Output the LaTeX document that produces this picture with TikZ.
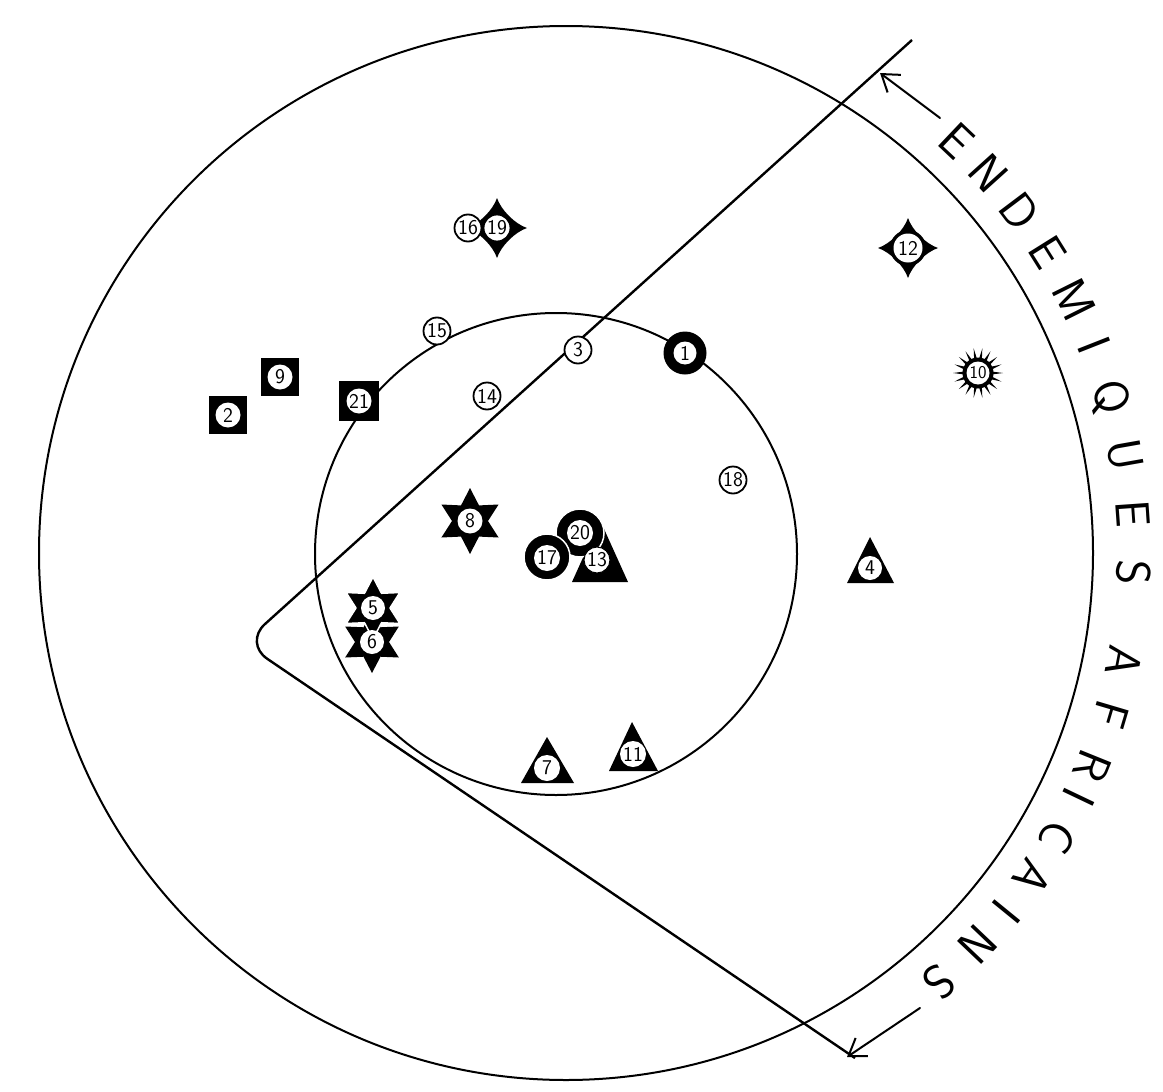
\documentclass[tikz,border=0pt]{standalone}
\usetikzlibrary{arrows.meta}
\begin{document}
\begin{tikzpicture}[x=1pt,y=-1pt,line join=round]
\tikzset{
  contour/.style={line width=2pt},
  wedge/.style={line width=2.4pt, rounded corners=28pt},
  arr/.style={line width=2pt, line cap=round, -{Straight Barb[length=16pt,width=22pt,line width=2pt]}},
  lbl/.style={circle, fill=white, inner sep=0pt, minimum size=25pt, font=\sffamily\fontsize{21}{21}\selectfont},
  olbl/.style={lbl, draw=black, line width=1.8pt, minimum size=27pt},
  letter/.style={inner sep=0pt, anchor=center, text height=33pt, text depth=0pt, font=\sffamily\fontsize{48}{48}\selectfont},
}
\fill[white] (0,0) rectangle (1163,1092);
\useasboundingbox (0,0) rectangle (1163,1092);

% circles
\draw[contour] (566,553) circle[radius=527];
\draw[contour] (556,554) circle[radius=241];
% wedge
\draw[wedge] (912,40) -- (244,643) -- (855,1058);
% arrows
\coordinate (a1t) at (940,118); \coordinate (a1h) at (880,73);
\coordinate (a2t) at (920,1008); \coordinate (a2h) at (847,1057);
\draw[arr] (a1t) -- (a1h);
\draw[arr] (a2t) -- (a2h);

% lettering
\foreach \ch/\a [count=\i] in {E/46.5,N/42,D/37,E/32,M/26.5,I/21.5,Q/16,U/10,E/4,S/-2,A/-11,F/-16.5,R/-22,I/-25.5,C/-30,A/-34.8,I/-39.2,N/-43.6,S/-49}
  \node[letter, rotate=\a-90] (L\i) at ({566+568*cos(\a)},{553-568*sin(\a)}) {\ch};

% squares
\fill (209,396) rectangle (247,434); \node[lbl] (n2) at (228,415) {2};
\fill (261,358) rectangle (299,396); \node[lbl] (n9) at (280,377) {9};
\fill (339,381) rectangle (379,421); \node[lbl] (n21) at (359,401) {21};

% ring 1
\fill (685,353) circle[radius=21.5];
\node[lbl, minimum size=23pt] (n1) at (685,353) {1};

% thin circles
\node[olbl] (n3) at (578,350) {3};
\node[olbl] (n14) at (487,396) {14};
\node[olbl] (n15) at (437,331) {15};
\node[olbl] (n18) at (733,480) {18};

% 16 / 19
\fill[shift={(497,228)}] (30,0) .. controls (18,4) and (4,18) .. (0,30) .. controls (-4,18) and (-18,4) .. (-30,0) .. controls (-18,-4) and (-4,-18) .. (0,-30) .. controls (4,-18) and (18,-4) .. (30,0) -- cycle;
\node[olbl] (n16) at (468,228) {16};
\node[olbl] (n19) at (497,228) {19};

% 12
\fill[shift={(908,248)}] (30,0) .. controls (18,4) and (4,18) .. (0,30) .. controls (-4,18) and (-18,4) .. (-30,0) .. controls (-18,-4) and (-4,-18) .. (0,-30) .. controls (4,-18) and (18,-4) .. (30,0) -- cycle;
\fill (908,248) circle[radius=18];
\node[lbl, minimum size=29pt] (n12) at (908,248) {12};

% 10 sun
\fill (978,373) circle[radius=15.5];
\foreach \a in {0,20,...,340}
  \fill[shift={(978,373)}] (\a-6:14) -- (\a:25) -- (\a+6:14) -- cycle;
\node[lbl, minimum size=23pt, font=\sffamily\fontsize{18}{18}\selectfont] (n10) at (978,373) {10};

% 8 star
\fill[shift={(470,521)}] (90:33) -- (120:18) -- (150:33) -- (180:18) -- (210:33) -- (240:18) -- (270:33) -- (300:18) -- (330:33) -- (0:18) -- (30:33) -- (60:18) -- cycle;
\node[lbl] (n8) at (470,521) {8};

% 5 / 6 stars
\fill[shift={(372,642)}] (90:31) -- (120:17) -- (150:31) -- (180:17) -- (210:31) -- (240:17) -- (270:31) -- (300:17) -- (330:31) -- (0:17) -- (30:31) -- (60:17) -- cycle;
\filldraw[draw=white, line width=1.5pt, shift={(373,608)}] (90:31) -- (120:17) -- (150:31) -- (180:17) -- (210:31) -- (240:17) -- (270:31) -- (300:17) -- (330:31) -- (0:17) -- (30:31) -- (60:17) -- cycle;
\node[lbl, minimum size=24pt] (n5) at (373,608) {5};
\node[lbl, minimum size=24pt] (n6) at (372,642) {6};

% 17 / 20 / 13
\fill (600,520) -- (628,582) -- (572,582) -- cycle;
\filldraw[draw=white, line width=1.5pt] (580,533) circle[radius=24];
\filldraw[draw=white, line width=1.5pt] (547,557) circle[radius=23];
\node[lbl, minimum size=26pt] (n20) at (580,533) {20};
\node[lbl, minimum size=26pt] (n17) at (547,558) {17};
\node[lbl, draw=black, line width=1pt, minimum size=26pt] (n13) at (597,560) {13};

% triangles
\fill (870,537) -- (894,583) -- (847,583) -- cycle;
\node[lbl, minimum size=24pt] (n4) at (870,568) {4};
\fill (547,737) -- (574,783) -- (521,783) -- cycle;
\node[lbl, minimum size=26pt] (n7) at (547,768) {7};
\fill (632,722) -- (658,771) -- (609,771) -- cycle;
\node[lbl, minimum size=26pt] (n11) at (633,754) {11};
\end{tikzpicture}
\end{document}
